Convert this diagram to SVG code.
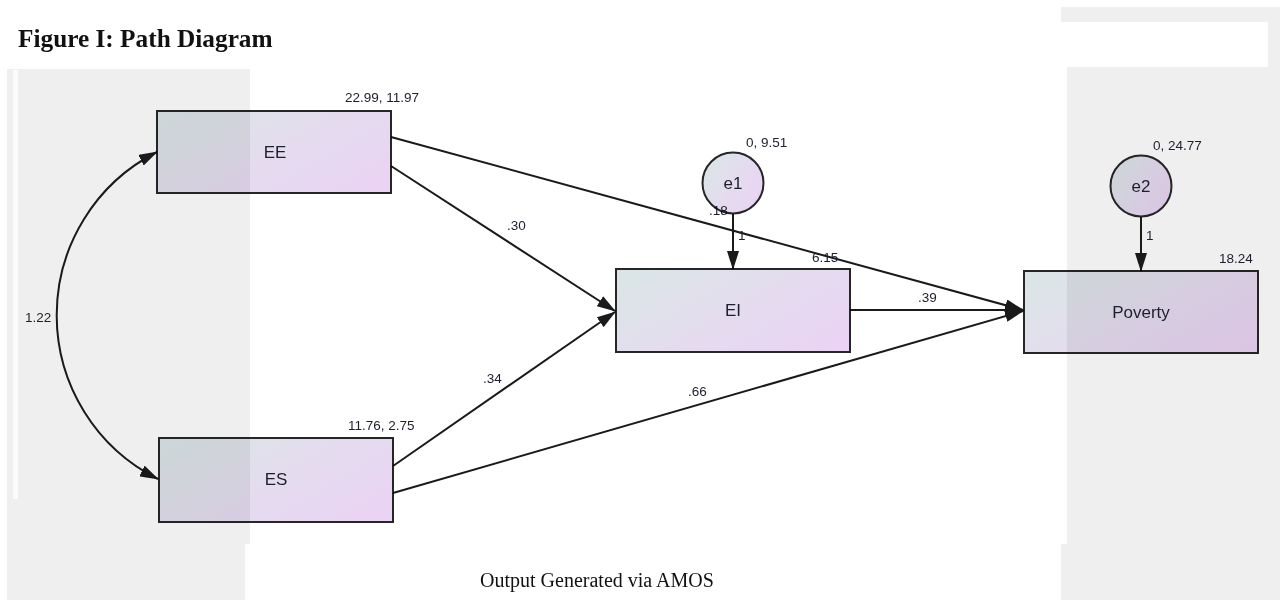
<svg xmlns="http://www.w3.org/2000/svg" width="1280" height="600" viewBox="0 0 1280 600">
<defs>
<style>
.bg{fill:#efefef}
.wh{fill:#ffffff}
.box{fill:url(#g);stroke:#262626;stroke-width:2;mix-blend-mode:multiply}
.lbl{font-family:"Liberation Sans",Arial,sans-serif;font-size:17px;fill:#1e1e2e;text-anchor:middle}
.num{font-family:"Liberation Sans",Arial,sans-serif;font-size:13.5px;fill:#1e1e2e}
.edge{fill:none;stroke:#1a1a1a;stroke-width:2}
</style>
<linearGradient id="g" x1="0" y1="0.2" x2="1" y2="0.8">
<stop offset="0" stop-color="#dbe5e7"/>
<stop offset="0.5" stop-color="#e4dcee"/>
<stop offset="1" stop-color="#ead3f4"/>
</linearGradient>
<marker id="ah" viewBox="0 0 19 12" refX="18" refY="6" markerWidth="19" markerHeight="12" markerUnits="userSpaceOnUse" orient="auto-start-reverse">
<path d="M0,0 L19,6 L0,12 z" fill="#1a1a1a"/>
</marker>
</defs>
<rect x="0" y="0" width="1280" height="600" fill="#ffffff"/>
<g id="background">
<rect class="bg" x="7" y="69" width="243" height="475"/>
<rect class="bg" x="7" y="544" width="238" height="56"/>
<rect x="13" y="70" width="5" height="429" fill="#fbfbfb"/>
<rect class="bg" x="1061" y="7" width="219" height="593"/>
<rect class="wh" x="1061" y="22" width="207" height="45"/>
<rect class="wh" x="1061" y="67" width="6" height="477"/>
</g>
<text x="18" y="47" font-family="'Liberation Serif','Times New Roman',serif" font-size="25.3" font-weight="bold" fill="#111">Figure I: Path Diagram</text>
<g id="connectors">
<line class="edge" x1="391" y1="137" x2="1023" y2="310" marker-end="url(#ah)"/>
<line class="edge" x1="391" y1="166" x2="615" y2="311" marker-end="url(#ah)"/>
<line class="edge" x1="393" y1="466" x2="615" y2="312" marker-end="url(#ah)"/>
<line class="edge" x1="393" y1="493" x2="1023" y2="311" marker-end="url(#ah)"/>
<line class="edge" x1="850" y1="310" x2="1023" y2="310" marker-end="url(#ah)"/>
<line class="edge" x1="733" y1="214" x2="733" y2="269" marker-end="url(#ah)"/>
<line class="edge" x1="1141" y1="217" x2="1141" y2="271" marker-end="url(#ah)"/>
<path class="edge" d="M157,152 A183,183 0 0 0 158,479" marker-start="url(#ah)" marker-end="url(#ah)"/>
<text class="num" x="25" y="322">1.22</text>
<text class="num" x="507" y="230">.30</text>
<text class="num" x="483" y="383">.34</text>
<text class="num" x="688" y="396">.66</text>
<text class="num" x="918" y="302">.39</text>
<text class="num" x="709" y="215">.18</text>
<text class="num" x="738" y="240">1</text>
<text class="num" x="1146" y="240">1</text>
</g>
<g id="EE">
<rect class="box" x="157" y="111" width="234" height="82"/>
<text class="lbl" x="275" y="158">EE</text>
<text class="num" x="345" y="102">22.99, 11.97</text>
</g>
<g id="ES">
<rect class="box" x="159" y="438" width="234" height="84"/>
<text class="lbl" x="276" y="485">ES</text>
<text class="num" x="348" y="430">11.76, 2.75</text>
</g>
<g id="EI">
<rect class="box" x="616" y="269" width="234" height="83"/>
<text class="lbl" x="733" y="316">EI</text>
<text class="num" x="812" y="262">6.15</text>
</g>
<g id="e1">
<circle class="box" cx="733" cy="183" r="30.5"/>
<text class="lbl" x="733" y="189">e1</text>
<text class="num" x="746" y="147">0, 9.51</text>
</g>
<g id="Poverty">
<rect class="box" x="1024" y="271" width="234" height="82"/>
<text class="lbl" x="1141" y="318">Poverty</text>
<text class="num" x="1219" y="263">18.24</text>
</g>
<g id="e2">
<circle class="box" cx="1141" cy="186" r="30.5"/>
<text class="lbl" x="1141" y="192">e2</text>
<text class="num" x="1153" y="150">0, 24.77</text>
</g>
<text x="597" y="587" font-family="'Liberation Serif','Times New Roman',serif" font-size="20" fill="#111" text-anchor="middle">Output Generated via AMOS</text>
</svg>
